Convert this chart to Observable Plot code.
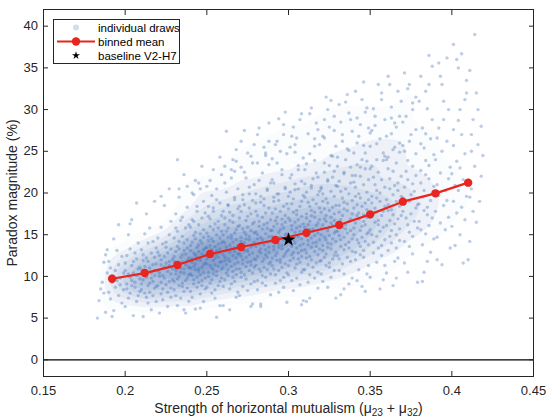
<!DOCTYPE html>
<html><head><meta charset="utf-8">
<script src="https://cdn.jsdelivr.net/npm/d3@7"></script>
<script src="https://cdn.jsdelivr.net/npm/@observablehq/plot@0.6"></script>
<style>html,body{margin:0;padding:0;background:#fff;} #chart{width:550px;height:419px;}</style>
</head><body><div id="chart"></div>
<script>
// Axis ticks
const xTicks = [0.15, 0.2, 0.25, 0.3, 0.35, 0.4, 0.45];
const yTicks = [0, 5, 10, 15, 20, 25, 30, 35, 40];
// Binned mean
const binX = [0.192, 0.212, 0.232, 0.252, 0.271, 0.292, 0.311, 0.331, 0.350, 0.370, 0.390, 0.410];
const binY = [9.72, 10.40, 11.36, 12.68, 13.52, 14.36, 15.24, 16.16, 17.44, 18.96, 19.96, 21.24];
// Baseline V2-H7
const baselineX = [0.30];
const baselineY = [14.4];
// Individual draws: pairs of (x in thousandths, y in tenths of a percent)
const draws = [
183,50, 184,71, 185,85, 186,93, 187,80, 187,117, 188,57, 188,126, 189,104, 189,132,
193,59, 198,68, 191,73, 196,77, 190,81, 199,84, 194,87, 197,90, 192,93, 195,95, 197,98, 192,101, 199,104, 194,107, 191,110, 196,114, 190,118, 198,124, 195,131, 193,145, 196,162, 192,52,
205,53, 200,64, 207,70, 202,74, 208,77, 203,80, 209,82, 201,85, 206,87, 204,89, 201,91, 206,93, 204,95, 209,97, 203,99, 207,101, 202,103, 205,104, 200,107, 208,109, 209,111, 204,113, 200,116, 205,118, 207,121, 201,125, 206,128, 203,133, 208,140, 202,150, 204,168, 207,188, 203,163,
211,52, 216,60, 214,68, 219,70, 213,75, 217,77, 212,80, 215,81, 210,84, 218,86, 219,88, 214,89, 210,91, 215,92, 217,94, 211,96, 216,98, 213,99, 218,101, 212,102, 216,104, 213,105, 218,107, 210,108, 215,110, 212,112, 217,114, 219,115, 214,118, 211,119, 213,122, 218,123, 211,126, 216,128, 210,132, 219,134, 214,140, 217,142, 212,151, 215,158, 213,175, 218,190,
221,56, 226,64, 223,72, 228,75, 222,79, 226,81, 223,85, 228,86, 220,89, 225,90, 222,93, 227,94, 229,96, 224,98, 221,100, 223,101, 228,103, 221,104, 226,106, 220,107, 229,109, 224,111, 227,113, 222,114, 225,116, 227,118, 222,120, 229,121, 224,124, 221,125, 226,128, 220,129, 228,133, 225,135, 223,139, 225,141, 220,146, 227,150, 222,159, 228,166, 224,185, 227,205, 222,196,
237,56, 232,65, 239,70, 234,74, 231,77, 236,82, 230,84, 238,86, 235,88, 233,89, 235,92, 230,94, 237,95, 232,97, 238,98, 233,100, 239,102, 231,103, 236,104, 234,105, 231,107, 236,109, 234,110, 239,111, 233,112, 237,114, 232,116, 235,117, 230,118, 238,119, 239,122, 234,123, 230,124, 235,126, 237,127, 231,130, 236,131, 233,133, 238,134, 232,136, 236,140, 233,142, 238,144, 230,146, 235,148, 232,154, 237,158, 239,162, 234,167, 231,175, 233,195, 238,208, 232,240, 236,222, 236,60,
243,61, 248,70, 241,75, 246,79, 240,82, 249,85, 244,87, 247,89, 242,91, 245,93, 247,95, 242,96, 249,98, 244,99, 241,101, 246,102, 240,103, 248,105, 245,106, 243,108, 245,109, 240,110, 247,111, 242,112, 248,114, 243,115, 249,116, 241,117, 246,119, 244,120, 241,121, 246,122, 244,123, 249,125, 243,126, 247,127, 242,128, 245,130, 240,131, 248,132, 249,134, 244,135, 240,137, 245,138, 247,140, 241,141, 246,143, 243,145, 248,147, 242,149, 246,151, 243,153, 248,156, 240,159, 245,162, 242,166, 247,170, 249,176, 244,184, 241,200, 243,215, 247,232, 245,212, 246,62,
258,65, 255,74, 253,80, 255,84, 250,87, 257,89, 252,92, 258,94, 253,96, 259,98, 251,100, 256,101, 254,103, 251,105, 256,106, 254,108, 259,109, 253,110, 257,112, 252,113, 255,114, 250,115, 258,117, 259,118, 254,119, 250,121, 255,122, 257,123, 251,124, 256,126, 253,127, 258,128, 252,130, 256,131, 253,132, 258,133, 250,135, 255,136, 252,137, 257,139, 259,140, 254,142, 251,143, 253,145, 258,146, 251,148, 256,150, 250,152, 259,154, 254,156, 257,158, 252,160, 255,163, 257,166, 252,169, 259,173, 254,178, 251,184, 256,192, 250,208, 254,228, 258,243, 256,51, 252,215,
260,65, 268,75, 269,81, 264,85, 260,88, 265,91, 267,94, 261,96, 266,99, 263,101, 268,102, 262,104, 266,106, 263,108, 268,109, 260,111, 265,112, 262,114, 267,115, 269,117, 264,118, 261,119, 263,121, 268,122, 261,123, 266,125, 260,126, 269,127, 264,129, 267,130, 262,131, 265,133, 267,134, 262,135, 269,137, 264,138, 261,140, 266,141, 260,142, 268,144, 265,146, 263,147, 265,149, 260,150, 267,152, 262,154, 268,156, 263,158, 269,160, 261,162, 266,165, 264,167, 261,170, 266,173, 264,177, 269,181, 263,186, 267,192, 262,201, 265,218, 262,274, 266,240, 268,252, 264,60, 261,232, 267,226,
278,67, 270,77, 275,83, 272,88, 277,91, 279,94, 274,97, 271,99, 273,102, 278,104, 271,105, 276,107, 270,109, 279,111, 274,112, 277,114, 272,115, 275,117, 277,118, 272,120, 279,121, 274,123, 271,124, 276,126, 270,127, 278,128, 275,130, 273,131, 275,132, 270,134, 277,135, 272,137, 278,138, 273,140, 279,141, 271,142, 276,144, 274,145, 271,147, 276,148, 274,150, 279,152, 273,153, 277,155, 272,157, 275,159, 270,161, 278,163, 279,165, 274,167, 270,170, 275,172, 277,175, 271,178, 276,182, 273,186, 278,191, 272,198, 276,207, 273,225, 275,248, 271,262, 278,236, 273,275, 277,64,
283,67, 289,78, 281,84, 286,89, 284,92, 281,95, 286,99, 284,101, 289,103, 283,106, 287,108, 282,109, 285,111, 280,113, 288,115, 289,117, 284,118, 280,120, 285,121, 287,123, 281,124, 286,126, 283,128, 288,129, 282,130, 286,132, 283,133, 288,135, 280,136, 285,138, 282,139, 287,141, 289,142, 284,144, 281,145, 283,147, 288,148, 281,150, 286,151, 280,153, 289,155, 284,157, 287,158, 282,160, 285,162, 287,164, 282,166, 289,168, 284,171, 281,173, 286,176, 280,178, 288,182, 285,185, 283,189, 285,193, 280,199, 287,205, 282,215, 288,234, 285,255, 281,270, 288,284, 283,64, 286,245,
299,69, 294,81, 297,87, 292,92, 295,95, 297,99, 292,102, 299,104, 294,107, 291,109, 296,111, 290,113, 298,115, 295,117, 293,119, 295,120, 290,122, 297,124, 292,125, 298,127, 293,128, 299,130, 291,132, 296,133, 294,135, 291,136, 296,137, 294,139, 299,141, 293,142, 297,144, 292,145, 295,147, 290,148, 298,150, 299,151, 294,153, 290,155, 295,156, 297,158, 291,160, 296,162, 293,163, 298,165, 292,167, 296,169, 293,171, 298,173, 290,176, 295,178, 292,181, 297,184, 299,187, 294,191, 291,195, 293,199, 298,205, 291,212, 296,222, 290,241, 293,262, 297,282, 295,250, 298,297,
309,71, 303,83, 307,90, 302,95, 305,98, 300,102, 308,105, 309,108, 304,110, 300,113, 305,115, 307,117, 301,119, 306,121, 303,122, 308,124, 302,126, 306,128, 303,129, 308,131, 300,132, 305,134, 302,136, 307,137, 309,139, 304,140, 301,142, 303,144, 308,145, 301,147, 306,148, 300,150, 309,151, 304,153, 307,154, 302,156, 305,158, 307,160, 302,161, 309,163, 304,165, 301,167, 306,168, 300,170, 308,172, 305,174, 303,177, 305,179, 300,181, 307,184, 302,187, 308,190, 303,193, 309,197, 301,201, 306,205, 304,211, 301,218, 306,228, 304,249, 302,268, 307,288, 304,258, 308,66,
313,74, 318,86, 312,93, 316,98, 313,102, 318,105, 310,108, 315,111, 312,114, 317,116, 319,118, 314,120, 311,122, 313,124, 318,126, 311,128, 316,130, 310,132, 319,133, 314,135, 317,136, 312,138, 315,140, 317,141, 312,143, 319,144, 314,146, 311,148, 316,149, 310,151, 318,152, 315,154, 313,156, 315,157, 310,159, 317,161, 312,162, 318,164, 313,166, 319,168, 311,170, 316,171, 314,173, 311,175, 316,177, 314,179, 319,182, 313,184, 317,187, 312,189, 315,192, 310,195, 318,198, 319,202, 314,206, 310,211, 315,217, 317,224, 311,235, 316,256, 313,295, 318,276, 316,265, 311,70,
329,74, 324,87, 321,94, 326,99, 320,103, 328,107, 325,111, 323,113, 325,116, 320,119, 327,121, 322,123, 328,125, 323,127, 329,129, 321,131, 326,133, 324,135, 321,137, 326,139, 324,140, 329,142, 323,144, 327,145, 322,147, 325,149, 320,150, 328,152, 329,154, 324,155, 320,157, 325,159, 327,161, 321,162, 326,164, 323,166, 328,167, 322,169, 326,171, 323,173, 328,175, 320,177, 325,179, 322,181, 327,183, 329,185, 324,188, 321,190, 323,193, 328,196, 321,199, 326,202, 320,205, 329,209, 324,214, 327,219, 322,225, 325,233, 327,244, 322,266, 326,311, 322,288, 328,275, 324,300,
332,78, 337,91, 339,98, 334,103, 331,107, 333,115, 338,118, 331,121, 336,123, 330,125, 339,130, 334,132, 337,134, 332,136, 335,138, 337,141, 332,144, 339,145, 334,147, 331,149, 336,152, 330,154, 338,155, 335,157, 333,159, 335,162, 330,164, 337,166, 332,168, 338,169, 333,173, 339,175, 331,177, 336,179, 334,181, 331,185, 336,187, 334,189, 339,191, 333,194, 337,199, 332,202, 335,205, 330,208, 338,212, 339,221, 334,225, 330,232, 335,240, 337,251, 333,270, 338,288, 331,306, 336,318, 334,85,
347,82, 342,95, 348,103, 343,108, 349,113, 341,120, 346,123, 344,126, 341,129, 346,131, 344,136, 349,138, 343,140, 347,142, 342,144, 345,147, 340,150, 348,151, 349,153, 344,155, 340,158, 345,160, 347,162, 341,164, 346,166, 343,169, 348,171, 342,173, 346,174, 343,176, 348,180, 340,182, 345,184, 342,186, 347,188, 349,192, 344,194, 341,196, 343,199, 348,201, 341,207, 346,210, 340,213, 349,216, 344,220, 347,229, 342,234, 345,240, 347,248, 342,260, 344,282, 348,302, 341,322, 346,333, 345,88,
356,85, 350,99, 359,113, 354,117, 357,125, 352,128, 355,134, 357,137, 352,141, 359,144, 354,148, 351,150, 356,154, 350,156, 358,159, 355,162, 353,165, 355,167, 350,171, 357,173, 352,176, 358,178, 353,182, 359,184, 351,188, 356,190, 354,194, 351,196, 356,200, 354,203, 359,207, 353,210, 357,216, 352,219, 355,225, 350,229, 358,239, 359,244, 354,259, 350,272, 353,292, 357,312, 351,275, 355,330, 358,96,
364,89, 360,104, 365,118, 367,122, 361,131, 366,134, 363,140, 368,143, 362,148, 366,150, 363,155, 368,157, 360,161, 365,163, 362,167, 367,169, 369,173, 364,174, 361,179, 363,180, 368,184, 361,186, 366,190, 360,192, 369,196, 364,198, 367,203, 362,205, 365,209, 367,212, 362,217, 369,220, 364,226, 361,229, 366,236, 360,240, 368,249, 365,255, 363,271, 365,284, 363,303, 367,322, 361,340, 368,292, 366,98,
379,93, 371,116, 376,127, 374,136, 371,142, 376,148, 374,153, 379,158, 373,162, 377,166, 372,170, 375,175, 370,178, 378,182, 379,186, 374,190, 370,194, 375,198, 377,202, 371,207, 376,211, 373,216, 378,221, 372,226, 376,232, 373,239, 378,247, 370,257, 375,270, 372,292, 371,344, 374,330, 378,315, 376,300, 373,105,
382,94, 385,118, 387,129, 382,138, 389,145, 384,151, 381,156, 386,161, 380,166, 388,170, 385,174, 383,179, 385,183, 380,187, 387,191, 382,195, 388,199, 383,203, 389,208, 381,212, 386,217, 384,222, 381,227, 386,233, 384,239, 389,246, 383,254, 387,265, 382,278, 385,301, 384,322, 388,352, 381,340, 386,365, 383,105,
394,114, 399,134, 391,147, 396,156, 393,164, 398,171, 390,178, 395,185, 397,191, 392,197, 396,203, 391,210, 398,217, 393,224, 399,231, 390,240, 394,250, 397,262, 392,278, 395,310, 392,356, 397,362, 394,330, 391,120,
407,116, 402,137, 405,150, 400,160, 408,168, 403,176, 406,183, 401,190, 409,196, 404,203, 402,209, 407,216, 400,223, 405,230, 403,238, 408,247, 401,257, 406,270, 404,287, 409,320, 401,378, 406,367, 404,350, 409,335,
411,142, 413,178, 412,205, 414,232, 416,258, 411,195, 415,165, 418,220, 413,288, 412,250, 417,190, 414,390, 411,347, 419,245, 410,120, 416,300
];
// Additional draws in the sparser upper part of the cloud (same units)
const drawsUpper = [
231,158, 235,171, 238,183, 233,205,
241,168, 244,178, 248,190, 242,198, 246,205,
251,172, 254,182, 258,188, 253,197, 256,205, 259,222,
260,178, 263,185, 267,195, 269,205, 261,212, 265,228, 268,238,
270,184, 272,192, 276,199, 279,210, 274,218, 271,231, 277,244, 279,258,
280,188, 283,196, 287,203, 289,212, 284,224, 281,236, 286,248, 288,262, 282,278,
291,190, 294,199, 298,207, 290,216, 296,228, 293,236, 299,247, 292,258, 297,270, 294,289,
300,196, 304,204, 308,214, 302,222, 306,233, 309,242, 301,255, 305,266, 303,279, 308,295,
311,201, 314,209, 318,219, 310,228, 316,239, 313,247, 319,258, 312,271, 317,284, 314,302,
320,207, 324,216, 328,226, 322,236, 326,245, 329,256, 321,268, 325,279, 328,292, 323,315,
331,214, 334,223, 338,231, 330,243, 336,253, 333,262, 339,274, 332,285, 337,296, 335,309,
341,221, 344,231, 348,238, 340,248, 346,257, 343,268, 349,278, 342,290, 347,297, 345,312,
351,232, 354,240, 358,248, 350,256, 356,265, 353,281, 359,288, 352,301, 357,320,
361,243, 364,252, 368,260, 360,268, 366,279, 363,290, 369,310, 362,330,
371,250, 374,262, 378,276, 370,285, 376,308, 373,325,
381,259, 384,271, 388,288, 380,310, 386,330,
391,266, 395,288, 398,300, 393,340,
401,276, 405,300, 408,312, 403,360,
412,270, 415,320, 418,280
];

const drawRows = [];
for (const arr of [draws, drawsUpper]) {
  for (let i = 0; i < arr.length; i += 2) drawRows.push({x: arr[i] / 1000, y: arr[i + 1] / 10});
}
const meanRows = binX.map((x, i) => ({x, y: binY[i]}));
const baseRows = baselineX.map((x, i) => ({x, y: baselineY[i]}));

const ink = "#262626";
const dotColor = "rgb(51,102,179)";
const red = "#e8261f";
const font = "'Liberation Sans', Arial, Helvetica, sans-serif";
// shading of the dense core: white for the sparsest levels, then toward a mid blue
const coreRamp = d3.interpolateRgb("#ffffff", "#88a2cd");
const coreInterp = t => coreRamp(Math.max(0, (t - 0.15) / 0.85));

const chart = Plot.plot({
  width: 550, height: 419,
  marginLeft: 43, marginRight: 17, marginTop: 9, marginBottom: 43,
  x: {domain: [0.15, 0.45]},
  y: {domain: [-2, 42]},
  color: {type: "linear", interpolate: coreInterp},
  style: {fontFamily: font, fontSize: "13px", color: ink, background: "#fff", overflow: "visible"},
  marks: [
    Plot.density(drawRows, {x: "x", y: "y", fill: "density", stroke: "none", bandwidth: 9, thresholds: 12}),
    Plot.dot(drawRows, {x: "x", y: "y", r: 1.7, fill: dotColor, fillOpacity: 0.33}),
    Plot.ruleY([0], {stroke: "#000", strokeWidth: 1.2}),
    Plot.line(meanRows, {x: "x", y: "y", stroke: red, strokeWidth: 2.2}),
    Plot.dot(meanRows, {x: "x", y: "y", r: 4.2, fill: red}),
    Plot.dot(baseRows, {x: "x", y: "y", r: 4.5, symbol: "star", fill: "#000"}),
    Plot.frame({stroke: ink}),
    Plot.axisX(xTicks, {anchor: "bottom", tickSize: -5, tickPadding: 14.5, tickFormat: d => String(d), label: null}),
    Plot.axisX(xTicks, {anchor: "top", tickSize: -5, tickFormat: () => "", label: null}),
    Plot.axisY(yTicks, {anchor: "left", tickSize: -5, tickPadding: 10.5, tickFormat: d => String(d), label: null}),
    Plot.axisY(yTicks, {anchor: "right", tickSize: -5, tickFormat: () => "", label: null}),
    Plot.text(["Paradox magnitude (%)"], {frameAnchor: "left", dx: -31, rotate: -90, textAnchor: "middle", lineAnchor: "middle", fontSize: 14}),
    Plot.text(["Strength of horizontal mutualism (μ23 + μ32)"], {frameAnchor: "bottom", dy: 32.5, textAnchor: "middle", lineAnchor: "middle", fontSize: 14})
  ]
});
document.getElementById("chart").appendChild(chart);

const svg = d3.select(chart);
// subscripts in the x label
svg.selectAll("text").filter(function () { return this.textContent.startsWith("Strength"); }).each(function () {
  const t = d3.select(this);
  t.text(null);
  t.append("tspan").text("Strength of horizontal mutualism (μ");
  t.append("tspan").attr("font-size", 10).attr("dy", 2.5).text("23");
  t.append("tspan").attr("dy", -2.5).text(" + μ");
  t.append("tspan").attr("font-size", 10).attr("dy", 2.5).text("32");
  t.append("tspan").attr("dy", -2.5).text(")");
});

// legend
const lg = svg.append("g").attr("font-family", font).attr("font-size", 11.5).attr("text-anchor", "start");
lg.append("rect").attr("x", 53.5).attr("y", 19.5).attr("width", 126).attr("height", 44)
  .style("fill", "#fff").style("stroke", ink).style("stroke-width", "1px");
const rowY = [27.5, 41.5, 55.5];
lg.append("circle").attr("cx", 76).attr("cy", rowY[0]).attr("r", 3).style("fill", dotColor).style("fill-opacity", 0.22);
lg.append("line").attr("x1", 57).attr("x2", 95).attr("y1", rowY[1]).attr("y2", rowY[1]).style("stroke", red).style("stroke-width", "2.2px");
lg.append("circle").attr("cx", 76).attr("cy", rowY[1]).attr("r", 4.2).style("fill", red);
lg.append("path").attr("transform", `translate(76,${rowY[2]})`).attr("d", d3.symbol(d3.symbolStar, 20)()).style("fill", "#000");
["individual draws", "binned mean", "baseline V2-H7"].forEach((s, i) => {
  lg.append("text").attr("x", 98).attr("y", rowY[i]).attr("dy", "0.35em").style("fill", "#000").text(s);
});
</script>
</body></html>
